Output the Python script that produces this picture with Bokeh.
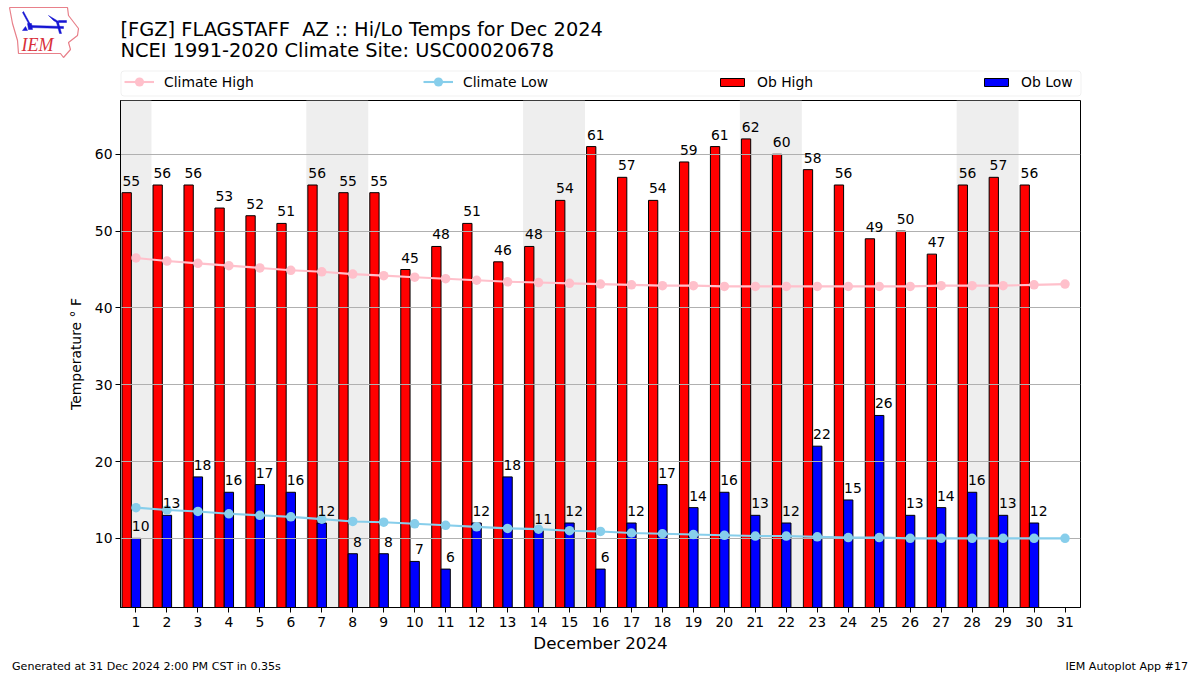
from bokeh.plotting import figure
from bokeh.embed import file_html
from bokeh.resources import INLINE
from bokeh.core.properties import value
from bokeh.models import Range1d, FixedTicker, Legend, LegendItem, BoxAnnotation

days = list(range(1, 32))
ob_days = days[:30]
ob_high = [55,56,56,53,52,51,56,55,55,45,48,51,46,48,54,61,57,54,59,61,62,60,58,56,49,50,47,56,57,56]
ob_low = [10,13,18,16,17,16,12,8,8,7,6,12,18,11,12,6,12,17,14,16,13,12,22,15,26,13,14,16,13,12]
clim_high = [46.5,46.1,45.8,45.5,45.2,44.9,44.7,44.4,44.2,44.0,43.8,43.6,43.4,43.3,43.2,43.1,43.0,42.9,42.9,42.8,42.8,42.8,42.8,42.8,42.8,42.8,42.9,42.9,42.9,43.0,43.1]
clim_low = [14.0,13.7,13.5,13.2,13.0,12.8,12.5,12.2,12.1,11.9,11.7,11.5,11.3,11.2,11.0,10.9,10.7,10.6,10.5,10.4,10.3,10.3,10.2,10.1,10.1,10.0,10.0,10.0,10.0,10.0,10.0]
weekend_left = [0.5, 6.5, 13.5, 20.5, 27.5]
weekend_right = [1.5, 8.5, 15.5, 22.5, 29.5]
y_ticks = [10, 20, 30, 40, 50, 60]
title_1 = "[FGZ] FLAGSTAFF \u00a0AZ :: Hi/Lo Temps for Dec 2024"
title_2 = "NCEI 1991-2020 Climate Site: USC00020678"
footer_l = "Generated at 31 Dec 2024 2:00 PM CST in 0.35s"
footer_r = "IEM Autoplot App #17"
x_label = "December 2024"
y_label = "Temperature \u00b0 F"
legend_names = ["Climate High", "Climate Low", "Ob High", "Ob Low"]

FONT = "DejaVu Sans"
W = 1200
HEAD_H, MAIN_H, FOOT_H = 99, 556, 20
FRAME_L, FRAME_R = 120, 1080
NAN = float("nan")


def page_figure(height, y0, y1):
    """A figure without axes whose data coordinates are the page's pixels."""
    f = figure(width=W, height=height, output_backend="svg", toolbar_location=None,
               x_range=Range1d(0, W), y_range=Range1d(y1, y0),
               x_axis_location=None, y_axis_location=None,
               min_border=0, min_border_left=0, min_border_right=0, min_border_top=0, min_border_bottom=0)
    f.grid.visible = False
    f.outline_line_color = None
    return f


def put_text(f, text, x, y, size, align="left", font=FONT, color="black", style="normal"):
    f.text([x], [y], text=[text], text_font=value(font), text_font_size=size, text_color=color,
           text_align=align, text_baseline="alphabetic", text_font_style=style)


# ---------- main chart ----------
p = figure(width=W, height=MAIN_H, output_backend="svg", toolbar_location=None,
           x_range=Range1d(0.5, 31.5), y_range=Range1d(1, 67),
           min_border_left=FRAME_L, min_border_right=W - FRAME_R,
           min_border_top=1, min_border_bottom=MAIN_H - 509,
           background_fill_color="white", border_fill_color="white")

p.outline_line_color = "black"
p.outline_line_width = 1
p.outline_line_alpha = 1

for ax in (p.xaxis[0], p.yaxis[0]):
    ax.major_tick_in = 0
    ax.major_tick_out = 5
    ax.minor_tick_in = 0
    ax.minor_tick_out = 0
    ax.major_tick_line_color = "black"
    ax.axis_line_color = "black"
    ax.major_label_text_font = FONT
    ax.major_label_text_font_size = "13.9px"
    ax.major_label_text_color = "black"
    ax.axis_label_text_font = FONT
    ax.axis_label_text_font_style = "normal"
    ax.axis_label_text_color = "black"

p.xaxis.ticker = FixedTicker(ticks=days)
p.yaxis.ticker = FixedTicker(ticks=y_ticks)
p.xaxis.major_label_standoff = 4
p.yaxis.major_label_standoff = 3
p.xaxis.axis_label = x_label
p.xaxis.axis_label_text_font_size = "16.7px"
p.xaxis.axis_label_standoff = 3
p.yaxis.axis_label = y_label
p.yaxis.axis_label_text_font_size = "13.9px"
p.yaxis.axis_label_standoff = 8

p.xgrid.visible = False
p.ygrid.ticker = FixedTicker(ticks=y_ticks)
p.ygrid.grid_line_color = "#b0b0b0"
p.ygrid.grid_line_width = 1
p.ygrid.level = "underlay"

p.quad(left=weekend_left, right=weekend_right, bottom=1, top=67,
       fill_color="#eeeeee", line_color=None, level="image")

p.vbar(x=[d - 0.3 for d in ob_days], top=ob_high, bottom=0, width=0.3,
       fill_color="red", line_color="black", line_width=1, level="image")
p.vbar(x=ob_days, top=ob_low, bottom=0, width=0.3,
       fill_color="blue", line_color="black", line_width=1, level="image")

p.line(days, clim_high, line_color="pink", line_width=2.1)
p.scatter(days, clim_high, size=9.5, fill_color="pink", line_color=None)
p.line(days, clim_low, line_color="skyblue", line_width=2.1)
p.scatter(days, clim_low, size=9.5, fill_color="skyblue", line_color=None)

for xs, ys in (([d - 0.15 for d in ob_days], ob_high), ([d + 0.15 for d in ob_days], ob_low)):
    p.text(xs, ys, text=[str(v) for v in ys], text_font=value(FONT), text_font_size="13.9px",
           text_color="black", text_align="center", text_baseline="alphabetic", y_offset=-12)

# ---------- header: logo, titles, legend ----------
head = page_figure(HEAD_H, 0, HEAD_H)
put_text(head, title_1, 120, 28.5, "19.4px")
put_text(head, title_2, 120, 50, "19.4px")

logo_outline_x = [9,67,68,78,77,68,70,63,60,18,17,12,9]
logo_outline_y = [7,7,15,28,35,42,49,57,53,53,40,23,7]
head.line(logo_outline_x, logo_outline_y, line_color="#e8808a", line_width=1.2)
logo_shapes = [
    ([30,63,63,30], [25,26,28,27]),
    ([22,29,30,23], [12,25,24,11]),
    ([27,31,32,28], [23,23,29,29]),
    ([48,58,58,53], [15,21,23,20]),
    ([58,66,66,58], [20,20,22,22]),
    ([56,58,61,59], [22,22,33,33]),
    ([22,27,25], [30,30,26]),
]
for xs_, ys_ in logo_shapes:
    head.patch(xs_, ys_, fill_color="#1414d2", line_color="#1414d2", line_width=0.5)
put_text(head, "IEM", 21, 44, "18px", font="Liberation Serif", color="#d9303a", style="italic")

head.add_layout(BoxAnnotation(left=120.5, right=1080.5, top=70.5, bottom=95.5,
                              fill_color="white", fill_alpha=1, line_color="#cccccc", line_width=1,
                              border_radius=3))
k_hl = head.line([NAN], [NAN], line_color="pink", line_width=2.1)
k_hs = head.scatter([NAN], [NAN], size=9.5, fill_color="pink", line_color=None)
k_ll = head.line([NAN], [NAN], line_color="skyblue", line_width=2.1)
k_ls = head.scatter([NAN], [NAN], size=9.5, fill_color="skyblue", line_color=None)
k_bh = head.vbar(x=[NAN], top=[NAN], width=1, fill_color="red", line_color="black", line_width=1)
k_bl = head.vbar(x=[NAN], top=[NAN], width=1, fill_color="blue", line_color="black", line_width=1)
legend_spec = [(legend_names[0], [k_hl, k_hs], 124, 23, 6), (legend_names[1], [k_ll, k_ls], 423, 23, 6),
               (legend_names[2], [k_bh], 717, 10, 9.5), (legend_names[3], [k_bl], 981, 10, 9.5)]
for name, rends, px, gh, py in legend_spec:
    head.add_layout(Legend(items=[LegendItem(label=name, renderers=rends)],
                           location=(px, py), orientation="horizontal",
                           background_fill_alpha=0, border_line_alpha=0, padding=0, margin=0,
                           glyph_width=30, glyph_height=gh, label_standoff=10,
                           label_text_font=FONT, label_text_font_size="13.9px", label_text_color="black"),
                    "center")

# ---------- footer ----------
foot = page_figure(FOOT_H, 655, 675)
put_text(foot, footer_l, 11.5, 666, "11.1px")
put_text(foot, footer_r, 1187.5, 666, "11.1px", align="right")

open("out.html", "w").write(file_html([head, p, foot], INLINE))
